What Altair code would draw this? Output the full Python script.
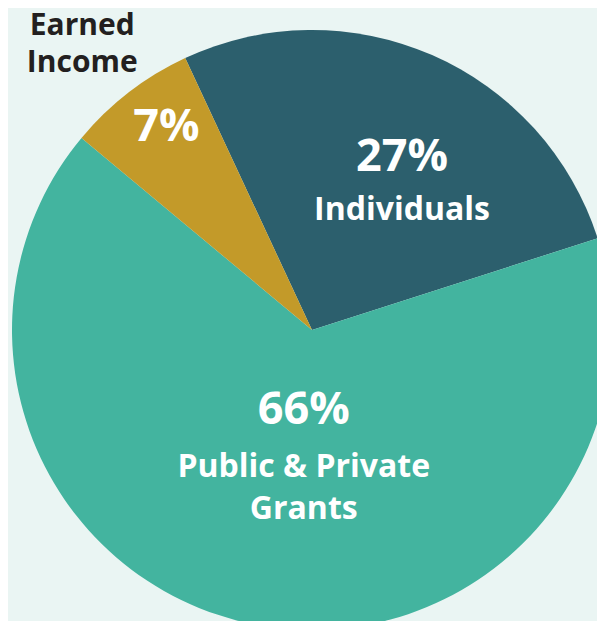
import math
import altair as alt
import pandas as pd

categories = ["Individuals", "Public & Private Grants", "Earned Income"]
shares = [27, 66, 7]
pct_labels = ["27%", "66%", "7%"]
colors = ["#2C5F6D", "#43B49F", "#C39A29"]

df = pd.DataFrame({
    "category": categories,
    "share": shares,
    "pct": pct_labels,
    "order": list(range(len(categories))),
})

FONT = "Open Sans"
CX, CY = 304, 322
start = math.radians(-25)

theta = alt.Theta("share:Q", stack=True,
                  scale=alt.Scale(domain=[0, 100], range=[start, start + 2 * math.pi]))
order = alt.Order("order:Q")
color = alt.Color("category:N", scale=alt.Scale(domain=categories, range=colors), legend=None)

base = alt.Chart(df).encode(theta=theta, order=order, x=alt.value(CX), y=alt.value(CY))

pie = base.mark_arc(radius=300).encode(color=color)


def txt(cat, radius, dx, dy, size, fill="white", literal=None, baseline="middle"):
    mk = base.mark_text(radius=radius, dx=dx, dy=dy, fontSize=size, font=FONT,
                        fontWeight="bold", fill=fill, align="center", baseline=baseline)
    pred = alt.datum.category == cat
    if literal is None:
        text = alt.condition(pred, alt.Text("pct:N"), alt.value(""))
    else:
        text = alt.condition(pred, alt.value(literal), alt.value(""))
    return mk.encode(text=text)


layers = [
    pie,
    txt("Individuals", 175, 20, -13, 45),
    txt("Individuals", 175, 20, 40, 32, literal="Individuals"),
    txt("Public & Private Grants", 80, 7, 1, 45),
    txt("Public & Private Grants", 80, 7, 58, 32, literal="Public & Private"),
    txt("Public & Private Grants", 80, 7, 100, 32, literal="Grants"),
    txt("Earned Income", 250, 7, -5, 45),
    txt("Earned Income", 370, -4, -2, 30, fill="#231F20", literal="Earned",
        baseline="alphabetic"),
    txt("Earned Income", 370, -4, 35, 30, fill="#231F20", literal="Income",
        baseline="alphabetic"),
]

chart = alt.layer(*layers).properties(
    width=589, height=613, background="#EAF5F3", padding=0,
    autosize=alt.AutoSizeParams(type="none"),
).configure_view(stroke=None)

chart.save("out.html", embed_options={"renderer": "svg", "actions": False})
